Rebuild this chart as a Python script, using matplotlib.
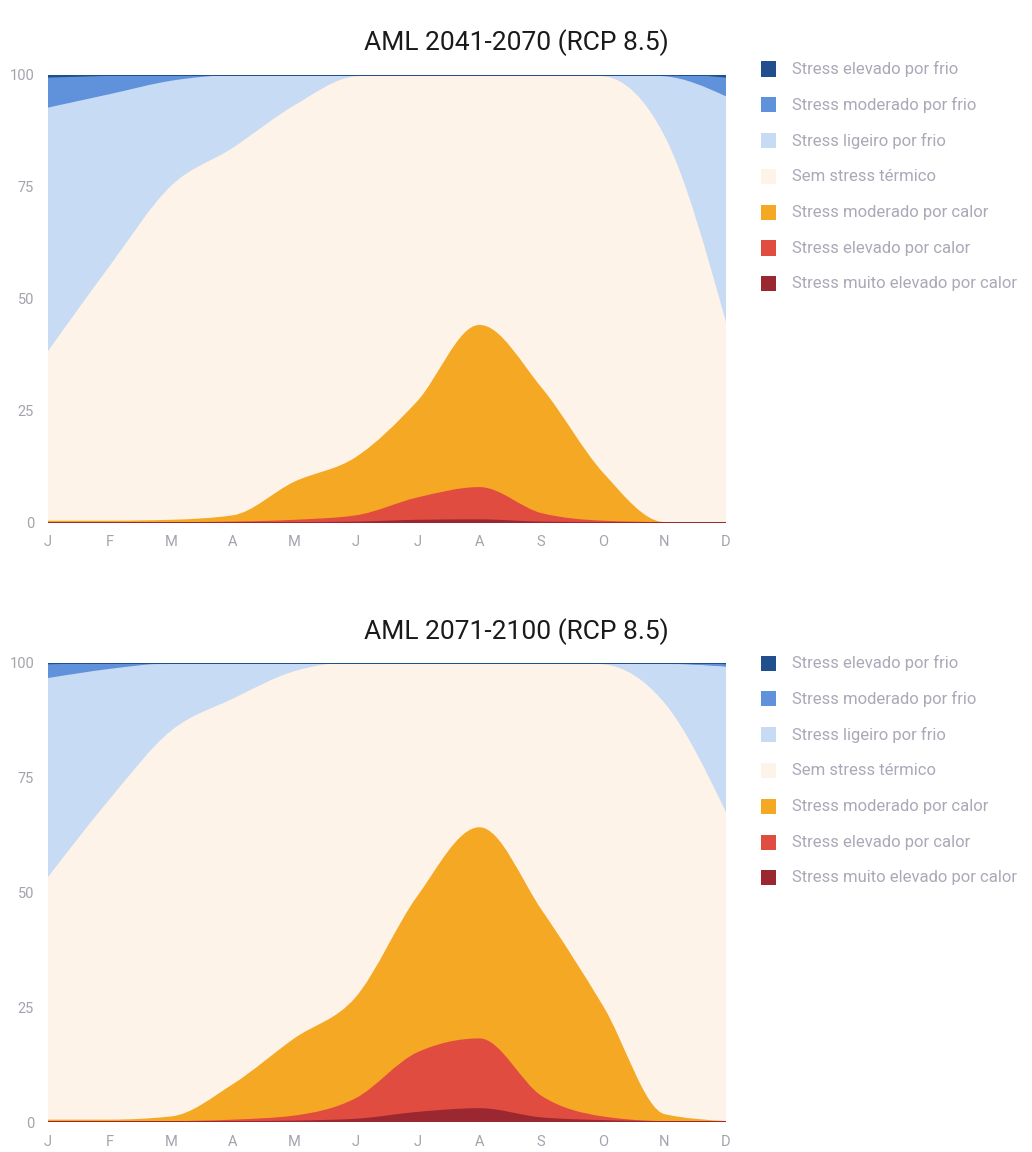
import numpy as np
import matplotlib
matplotlib.use("Agg")
import matplotlib.pyplot as plt
from matplotlib.path import Path
from matplotlib.patches import PathPatch, Rectangle

plt.rcParams['font.family'] = ['Roboto', 'DejaVu Sans']

months = ["J", "F", "M", "A", "M", "J", "J", "A", "S", "O", "N", "D"]
yticks = [0, 25, 50, 75, 100]

categories = ["Stress elevado por frio", "Stress moderado por frio", "Stress ligeiro por frio",
              "Sem stress térmico", "Stress moderado por calor", "Stress elevado por calor",
              "Stress muito elevado por calor"]
colors = ["#214e8c", "#6092dc", "#c8dbf5", "#fdf3e8", "#f5a823", "#e04c40", "#9b2830"]

titles = ["AML 2041-2070 (RCP 8.5)", "AML 2071-2100 (RCP 8.5)"]

# 2041-2070 (values per class, %)
p1_elevado_frio = [0.8, 0.4, 0, 0, 0, 0, 0, 0, 0, 0, 0, 0.8]
p1_moderado_frio = [6.7, 4.1, 1.5, 0.2, 0, 0, 0, 0, 0, 0, 0.5, 4.2]
p1_ligeiro_frio = [54.5, 38.5, 23.5, 16.3, 7, 0.5, 0, 0, 0, 0.5, 13.5, 51]
p1_sem_stress = [37.7, 56.7, 74.5, 82, 84, 85, 73, 56, 70, 88.5, 86, 44]
p1_moderado_calor = [0.3, 0.3, 0.5, 1.4, 8.5, 13.0, 21.5, 36.2, 28, 10.7, 0, 0]
p1_elevado_calor = [0, 0, 0, 0.1, 0.5, 1.4, 5.0, 7.2, 1.9, 0.3, 0, 0]
p1_muito_calor = [0, 0, 0, 0, 0, 0.1, 0.5, 0.6, 0.1, 0, 0, 0]

# 2071-2100
p2_elevado_frio = [0.5, 0.2, 0, 0, 0, 0, 0, 0, 0, 0, 0, 0.5]
p2_moderado_frio = [3, 1.3, 0.2, 0, 0, 0, 0, 0, 0, 0, 0.2, 0.5]
p2_ligeiro_frio = [43.5, 28.5, 14.8, 8, 2, 0, 0, 0, 0, 0.5, 8.8, 32]
p2_sem_stress = [52.7, 69.7, 84, 84, 80, 73, 51, 36, 54, 74.5, 89.5, 67]
p2_moderado_calor = [0.3, 0.3, 1, 7.7, 16.8, 22, 34, 46, 40.5, 24, 1.5, 0]
p2_elevado_calor = [0, 0, 0, 0.3, 1.1, 4.5, 13, 15.2, 4.7, 0.8, 0, 0]
p2_muito_calor = [0, 0, 0, 0, 0.1, 0.5, 2, 2.8, 0.8, 0.2, 0, 0]

panels = [
    [p1_elevado_frio, p1_moderado_frio, p1_ligeiro_frio, p1_sem_stress,
     p1_moderado_calor, p1_elevado_calor, p1_muito_calor],
    [p2_elevado_frio, p2_moderado_frio, p2_ligeiro_frio, p2_sem_stress,
     p2_moderado_calor, p2_elevado_calor, p2_muito_calor],
]


def _sign(v):
    return -1.0 if v < 0 else 1.0


def monotone_tangents(x, y):
    n = len(x)
    t = np.zeros(n)
    for i in range(1, n - 1):
        h0 = x[i] - x[i - 1]
        h1 = x[i + 1] - x[i]
        s0 = (y[i] - y[i - 1]) / h0
        s1 = (y[i + 1] - y[i]) / h1
        p = (s0 * h1 + s1 * h0) / (h0 + h1)
        t[i] = (_sign(s0) + _sign(s1)) * min(abs(s0), abs(s1), 0.5 * abs(p))
    h = x[1] - x[0]
    t[0] = (3 * (y[1] - y[0]) / h - t[1]) / 2
    h = x[-1] - x[-2]
    t[-1] = (3 * (y[-1] - y[-2]) / h - t[-2]) / 2
    return t


def curve_segments(x, y):
    t = monotone_tangents(x, y)
    verts, codes = [], []
    for i in range(len(x) - 1):
        dx = (x[i + 1] - x[i]) / 3
        verts += [(x[i] + dx, y[i] + dx * t[i]),
                  (x[i + 1] - dx, y[i + 1] - dx * t[i + 1]),
                  (x[i + 1], y[i + 1])]
        codes += [Path.CURVE4] * 3
    return verts, codes


def band_path(x, lo, hi):
    verts = [(x[0], hi[0])]
    codes = [Path.MOVETO]
    v, c = curve_segments(x, hi)
    verts += v
    codes += c
    xr = x[::-1]
    lr = lo[::-1]
    verts.append((xr[0], lr[0]))
    codes.append(Path.LINETO)
    v, c = curve_segments(xr, lr)
    verts += v
    codes += c
    verts.append((x[0], hi[0]))
    codes.append(Path.CLOSEPOLY)
    return Path(verts, codes)


def line_path(x, y):
    verts = [(x[0], y[0])]
    codes = [Path.MOVETO]
    v, c = curve_segments(x, y)
    return Path(verts + v, codes + c)


W, H = 1032, 1152
fig = plt.figure(figsize=(W / 100, H / 100), dpi=100)

axes_px = [(48, 75, 726, 523), (48, 663, 726, 1122)]
title_y = [43, 632]
legend_y0 = [69, 663]
tick_color = "#a3a3ad"

for k in range(2):
    x0, y0, x1, y1 = axes_px[k]
    ax = fig.add_axes([x0 / W, 1 - y1 / H, (x1 - x0) / W, (y1 - y0) / H])
    x = np.arange(12, dtype=float)
    series = [np.array(s, dtype=float) for s in panels[k]]
    order = list(range(6, -1, -1))
    base = np.zeros(12)
    bounds = {}
    for i in order:
        top = base + series[i]
        bounds[i] = (base.copy(), top.copy())
        base = top
    for i in order:
        lo, hi = bounds[i]
        ax.add_patch(PathPatch(band_path(x, lo, hi), facecolor=colors[i],
                               edgecolor="none", lw=0, zorder=2))
    stroke_order = [3, 2, 1, 0, 4, 5, 6]
    for z, i in enumerate(stroke_order):
        lo, hi = bounds[i]
        ax.add_patch(PathPatch(line_path(x, hi), facecolor="none",
                               edgecolor=colors[i],
                               lw=1.4, zorder=3 + z * 0.1, capstyle="butt"))
    ax.set_xlim(0, 11)
    ax.set_ylim(0, 100)
    for s in ax.spines.values():
        s.set_visible(False)
    ax.set_xticks(x)
    ax.set_xticklabels(months)
    ax.set_yticks(yticks)
    ax.set_yticklabels([str(v) for v in yticks])
    ax.tick_params(axis="both", length=0, labelsize=10.5, colors=tick_color)
    ax.tick_params(axis="x", pad=9)
    ax.tick_params(axis="y", pad=10)
    ax.set_facecolor("white")

    fig.text(0.5, 1 - title_y[k] / H, titles[k], ha="center", va="center",
             fontsize=19, color="#1a1a1a")

    for j, lab in enumerate(categories):
        cy = legend_y0[k] + j * 35.8
        fig.patches.append(Rectangle((761 / W, 1 - (cy + 7.5) / H), 15 / W, 15 / H,
                                     transform=fig.transFigure, figure=fig,
                                     facecolor=colors[j], edgecolor="none"))
        fig.text(792 / W, 1 - cy / H, lab, ha="left", va="center",
                 fontsize=12, color="#a9a9b8")

fig.savefig("out.png", dpi=100, facecolor="white")
